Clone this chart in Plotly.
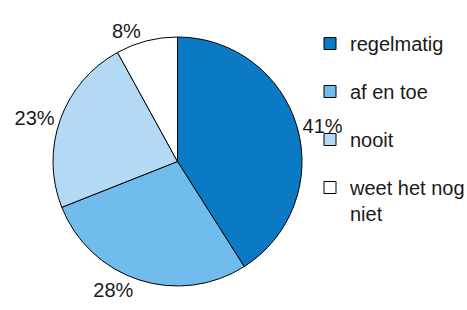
import plotly.graph_objects as go

labels = ["regelmatig", "af en toe", "nooit", "weet het nog<br>niet"]
values = [41, 28, 23, 8]
colors = ["#0A7AC4", "#70BCEC", "#B3D9F5", "#FFFFFF"]

W, H = 467, 310
cx, cy, r = 177.5, 161.5, 124.5
FONT = "Liberation Sans, Arial, Helvetica, sans-serif"

fig = go.Figure()
fig.add_trace(go.Pie(
    labels=labels,
    values=values,
    sort=False,
    direction="clockwise",
    rotation=0,
    marker=dict(colors=colors, line=dict(color="#000000", width=1)),
    textinfo="percent",
    textposition="outside",
    outsidetextfont=dict(family=FONT, size=20, color="#1a1a1a"),
    domain=dict(x=[(cx - r) / W, (cx + r) / W], y=[(H - cy - r) / H, (H - cy + r) / H]),
    hoverinfo="label+percent",
    showlegend=False,
))

# legend entries (one per slice, same labels/colours)
for lab, col in zip(labels, colors):
    fig.add_trace(go.Scatter(
        x=[None], y=[None], mode="markers", name=lab,
        marker=dict(symbol="square", size=12, color=col, line=dict(color="#000000", width=1)),
        legendgroup=lab, showlegend=True, hoverinfo="skip",
    ))

fig.update_layout(
    width=W, height=H,
    margin=dict(l=0, r=0, t=0, b=0, autoexpand=False),
    paper_bgcolor="white",
    plot_bgcolor="rgba(0,0,0,0)",
    font=dict(family=FONT, size=20, color="#1a1a1a"),
    xaxis=dict(visible=False),
    yaxis=dict(visible=False),
    legend=dict(x=310 / W, y=1 - 24 / H, xanchor="left", yanchor="top",
                bgcolor="rgba(0,0,0,0)", font=dict(family=FONT, size=20),
                valign="top", tracegroupgap=19, traceorder="grouped"),
)

fig.write_html("out.html", config={"displayModeBar": False},
               post_script="document.body.style.margin='0';document.body.style.overflow='hidden';")
